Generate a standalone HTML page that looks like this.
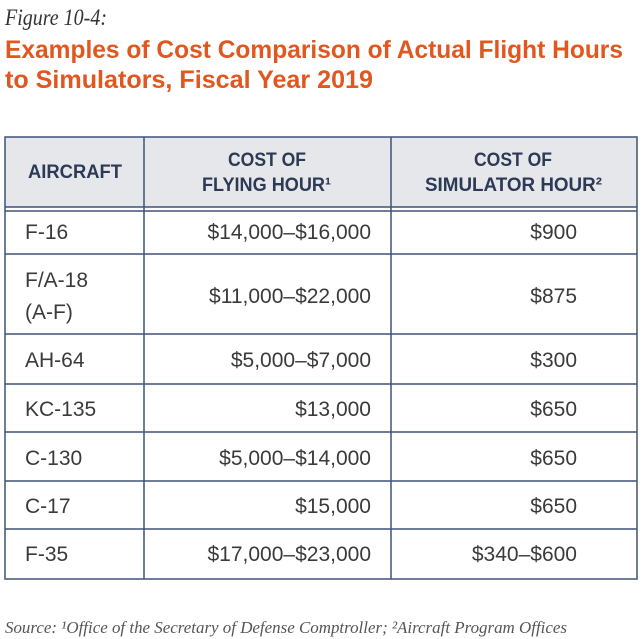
<!DOCTYPE html>
<html><head><meta charset="utf-8"><style>
html,body{margin:0;padding:0;background:#fff;}
svg{display:block;}
.t{font-family:"Liberation Sans",sans-serif;font-size:21px;fill:#3a3a3a;}
.h{font-family:"Liberation Sans",sans-serif;font-size:19px;font-weight:bold;fill:#2c3a55;}
</style></head><body>
<svg width="642" height="639" viewBox="0 0 642 639" xmlns="http://www.w3.org/2000/svg">
<text x="5" y="25" font-family="Liberation Serif,serif" font-style="italic" font-size="23" fill="#333" textLength="102" lengthAdjust="spacingAndGlyphs">Figure 10-4:</text>
<text x="5" y="58" font-family="Liberation Sans,sans-serif" font-weight="bold" font-size="25" fill="#e0571f" textLength="618" lengthAdjust="spacingAndGlyphs">Examples of Cost Comparison of Actual Flight Hours</text>
<text x="5" y="88" font-family="Liberation Sans,sans-serif" font-weight="bold" font-size="25" fill="#e0571f" textLength="368" lengthAdjust="spacingAndGlyphs">to Simulators, Fiscal Year 2019</text>

<rect x="5" y="137" width="632" height="70" fill="#e6e7ea"/>
<g stroke="#3f5478" stroke-width="1.5" fill="none">
<rect x="5" y="137" width="632" height="442"/>
<line x1="5" y1="207" x2="637" y2="207"/>
<line x1="5" y1="211" x2="637" y2="211"/>
<line x1="144" y1="137" x2="144" y2="579"/>
<line x1="391" y1="137" x2="391" y2="579"/>
<line x1="5" y1="254" x2="637" y2="254"/>
<line x1="5" y1="334" x2="637" y2="334"/>
<line x1="5" y1="384" x2="637" y2="384"/>
<line x1="5" y1="432" x2="637" y2="432"/>
<line x1="5" y1="481" x2="637" y2="481"/>
<line x1="5" y1="529" x2="637" y2="529"/>
</g>

<text class="h" x="28" y="178" textLength="94" lengthAdjust="spacingAndGlyphs">AIRCRAFT</text>
<text class="h" x="228" y="166" textLength="78" lengthAdjust="spacingAndGlyphs">COST OF</text>
<text class="h" x="202" y="191" textLength="129" lengthAdjust="spacingAndGlyphs">FLYING HOUR¹</text>
<text class="h" x="474" y="166" textLength="78" lengthAdjust="spacingAndGlyphs">COST OF</text>
<text class="h" x="425" y="191" textLength="177" lengthAdjust="spacingAndGlyphs">SIMULATOR HOUR²</text>

<g class="t">
<text x="25" y="239">F-16</text>
<text x="371" y="239" text-anchor="end">$14,000–$16,000</text>
<text x="577" y="239" text-anchor="end">$900</text>

<text x="25" y="287">F/A-18</text>
<text x="25" y="319">(A-F)</text>
<text x="371" y="303" text-anchor="end">$11,000–$22,000</text>
<text x="577" y="303" text-anchor="end">$875</text>

<text x="25" y="367">AH-64</text>
<text x="371" y="367" text-anchor="end">$5,000–$7,000</text>
<text x="577" y="367" text-anchor="end">$300</text>

<text x="25" y="416">KC-135</text>
<text x="371" y="416" text-anchor="end">$13,000</text>
<text x="577" y="416" text-anchor="end">$650</text>

<text x="25" y="465">C-130</text>
<text x="371" y="465" text-anchor="end">$5,000–$14,000</text>
<text x="577" y="465" text-anchor="end">$650</text>

<text x="25" y="513">C-17</text>
<text x="371" y="513" text-anchor="end">$15,000</text>
<text x="577" y="513" text-anchor="end">$650</text>

<text x="25" y="561">F-35</text>
<text x="371" y="561" text-anchor="end">$17,000–$23,000</text>
<text x="577" y="561" text-anchor="end">$340–$600</text>
</g>

<text x="5" y="633" font-family="Liberation Serif,serif" font-style="italic" font-size="17" fill="#555" textLength="562" lengthAdjust="spacingAndGlyphs">Source: ¹Office of the Secretary of Defense Comptroller;  ²Aircraft Program Offices</text>
</svg>
</body></html>
